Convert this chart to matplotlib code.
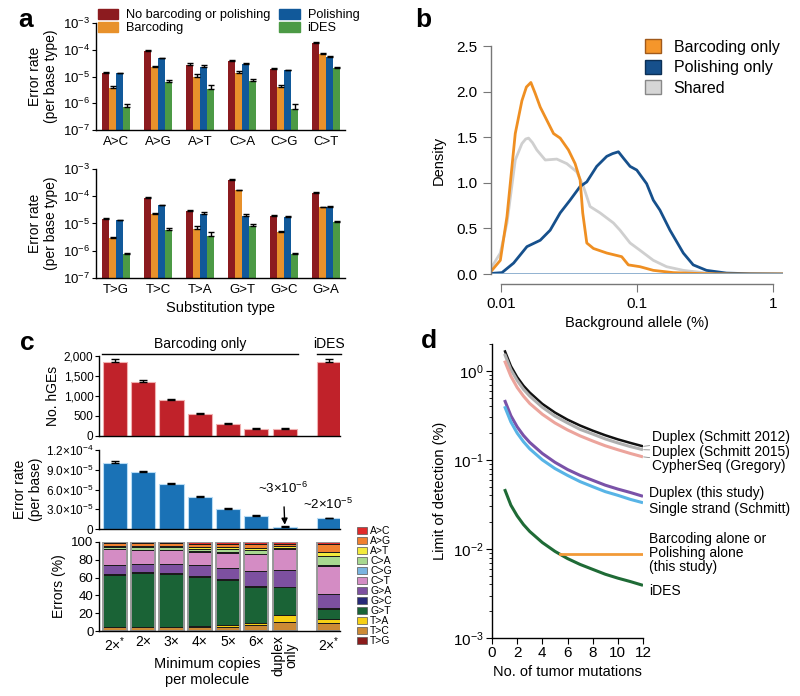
import matplotlib
matplotlib.use('Agg')
import matplotlib.pyplot as plt
import numpy as np
from matplotlib.patches import Patch
from matplotlib.ticker import NullLocator, FixedLocator, LogLocator

plt.rcParams['font.family'] = ['Liberation Sans', 'DejaVu Sans']
plt.rcParams['mathtext.fontset'] = 'custom'
plt.rcParams['mathtext.rm'] = 'Liberation Sans'
plt.rcParams['mathtext.it'] = 'Liberation Sans:italic'
plt.rcParams['mathtext.bf'] = 'Liberation Sans:bold'
plt.rcParams['axes.linewidth'] = 1.0

# ---------------- data ----------------
# panel a: error rate per substitution type
subs_top = ['A>C', 'A>G', 'A>T', 'C>A', 'C>G', 'C>T']
subs_bot = ['T>G', 'T>C', 'T>A', 'G>T', 'G>C', 'G>A']
methods = ['No barcoding or polishing', 'Barcoding', 'Polishing', 'iDES']
rate_top = {
    'No barcoding or polishing': [1.4e-5, 9.0e-5, 2.8e-5, 3.8e-5, 1.9e-5, 1.8e-4],
    'Barcoding': [3.8e-6, 2.3e-5, 1.0e-5, 1.3e-5, 4.0e-6, 7.0e-5],
    'Polishing': [1.3e-5, 4.8e-5, 2.2e-5, 2.9e-5, 1.7e-5, 5.3e-5],
    'iDES': [7.0e-7, 6.0e-6, 3.5e-6, 7.0e-6, 6.0e-7, 2.1e-5],
}
err_top = {
    'No barcoding or polishing': [1.2e-6, 5e-6, 3e-6, 3e-6, 1e-6, 1.2e-5],
    'Barcoding': [8e-7, 2e-6, 2.5e-6, 2.5e-6, 7e-7, 4e-6],
    'Polishing': [8e-7, 3e-6, 4e-6, 2e-6, 1e-6, 4e-6],
    'iDES': [2.5e-7, 1.5e-6, 1.5e-6, 1.2e-6, 3.5e-7, 2.5e-6],
}
rate_bot = {
    'No barcoding or polishing': [1.5e-5, 8.8e-5, 2.8e-5, 4.0e-4, 1.9e-5, 1.35e-4],
    'Barcoding': [3.0e-6, 2.3e-5, 6.5e-6, 1.7e-4, 4.7e-6, 4.0e-5],
    'Polishing': [1.3e-5, 4.7e-5, 2.3e-5, 1.9e-5, 1.8e-5, 4.0e-5],
    'iDES': [7.5e-7, 5.8e-6, 3.5e-6, 8.0e-6, 7.5e-7, 1.1e-5],
}
err_bot = {
    'No barcoding or polishing': [8e-7, 4e-6, 2e-6, 1.5e-5, 8e-7, 7e-6],
    'Barcoding': [2e-7, 1.5e-6, 1.5e-6, 6e-6, 4e-7, 2e-6],
    'Polishing': [6e-7, 2e-6, 3e-6, 4e-6, 8e-7, 4e-6],
    'iDES': [1e-7, 1e-6, 1.2e-6, 1.5e-6, 1e-7, 1.5e-6],
}
method_colors = ['#8c1b1f', '#e8912b', '#11599a', '#4c9a45']

# panel b: density of background allele fractions (log10 of %)
bx_barc = [-2.069, -2.007, -1.958, -1.897, -1.848, -1.815, -1.782, -1.750, -1.713, -1.615,
           -1.566, -1.505, -1.456, -1.419, -1.400, -1.370, -1.321, -1.223, -1.113, -1.064,
           -0.978, -0.880, -0.733, -0.537, -0.290, 0.075]
by_barc = [0.04, 0.15, 0.63, 1.54, 1.90, 2.05, 2.10, 1.98, 1.83, 1.54,
           1.49, 1.36, 1.21, 1.03, 0.67, 0.34, 0.28, 0.23, 0.19, 0.10,
           0.08, 0.04, 0.015, 0.005, 0.0, 0.0]
bx_pol = [-2.069, -1.995, -1.909, -1.811, -1.713, -1.640, -1.566, -1.493, -1.419, -1.370,
          -1.297, -1.223, -1.180, -1.137, -1.100, -1.051, -1.002, -0.929, -0.880, -0.831,
          -0.757, -0.659, -0.586, -0.488, -0.341, -0.169, 0.075]
by_pol = [0.007, 0.015, 0.12, 0.30, 0.37, 0.48, 0.67, 0.81, 0.96, 1.01,
          1.18, 1.29, 1.32, 1.34, 1.27, 1.18, 1.14, 0.99, 0.81, 0.70,
          0.48, 0.23, 0.10, 0.04, 0.01, 0.003, 0.0]
bx_sh = [-2.069, -2.007, -1.958, -1.897, -1.848, -1.820, -1.799, -1.770, -1.738, -1.676,
         -1.591, -1.517, -1.444, -1.395, -1.346, -1.272, -1.174, -1.125, -1.051, -0.978,
         -0.880, -0.782, -0.659, -0.488, -0.292, 0.075]
by_sh = [0.08, 0.23, 0.56, 1.25, 1.43, 1.48, 1.49, 1.44, 1.36, 1.25,
         1.26, 1.21, 1.12, 0.96, 0.74, 0.67, 0.56, 0.48, 0.34, 0.26,
         0.15, 0.08, 0.04, 0.01, 0.0, 0.0]

# panel c
c_labels = ['2×$^{*}$', '2×', '3×', '4×', '5×', '6×', 'duplex\nonly', '2×$^{*}$']
hge = [1850, 1350, 900, 540, 310, 175, 170, 1850]
hge_err = [70, 55, 35, 25, 20, 15, 20, 70]
err_rate = [1.01e-4, 8.6e-5, 6.85e-5, 4.85e-5, 3.03e-5, 2.0e-5, 3.0e-6, 1.6e-5]
err_rate_err = [3e-6, 2e-6, 2e-6, 2e-6, 1.5e-6, 1e-6, 1e-6, 1e-6]
stack_types = ['T>G', 'T>C', 'T>A', 'G>T', 'G>C', 'G>A', 'C>T', 'C>G', 'C>A', 'A>T', 'A>G', 'A>C']
stack_colors = ['#8a1c1c', '#cc8a35', '#f6d014', '#1a6336', '#272a78', '#7d50a0',
                '#d48cc4', '#7ab4e0', '#a8d890', '#f2ea3c', '#f08030', '#e02a2a']
stack_pct = [
    [1, 3, 1, 58, 1, 10, 18, 0.5, 1.5, 1.5, 3.5, 1],
    [1, 3, 1, 60, 1, 9, 16, 0.5, 2.5, 1.5, 3.5, 1],
    [1, 3, 1, 59, 1, 10, 16, 0.5, 2.5, 1.5, 3.5, 1],
    [1, 3, 2, 55, 1, 12, 15, 0.5, 3, 2, 3.5, 2],
    [1, 4, 2, 50, 1, 13, 17, 0.5, 3.5, 2, 4, 2],
    [1, 6, 2.5, 40.5, 1, 16, 19, 0.5, 4.5, 2.5, 4.5, 2],
    [1, 9, 8, 31, 1, 18, 24, 0.5, 1, 1.5, 3, 2],
    [1, 8, 5, 11, 1, 16, 31, 1, 10, 5, 9, 2],
]

# panel d: limit of detection (%) vs number of tumor mutations
d_n = [1, 1.5, 2, 2.5, 3, 4, 5, 6, 7, 8, 9, 10, 11, 12]
lod = {
    'Duplex (Schmitt 2012)': [1.7, 1.13, 0.85, 0.68, 0.57, 0.425, 0.34, 0.283, 0.243, 0.213, 0.189, 0.17, 0.155, 0.142],
    'Duplex (Schmitt 2015)': [1.55, 1.03, 0.78, 0.62, 0.52, 0.39, 0.31, 0.26, 0.22, 0.195, 0.172, 0.155, 0.141, 0.13],
    'CypherSeq (Gregory)': [1.3, 0.87, 0.65, 0.52, 0.43, 0.325, 0.26, 0.217, 0.186, 0.163, 0.144, 0.13, 0.118, 0.108],
    'Duplex (this study)': [0.47, 0.313, 0.235, 0.188, 0.157, 0.118, 0.094, 0.078, 0.067, 0.059, 0.052, 0.047, 0.043, 0.039],
    'Single strand (Schmitt)': [0.40, 0.267, 0.2, 0.16, 0.133, 0.1, 0.08, 0.067, 0.057, 0.05, 0.044, 0.04, 0.036, 0.033],
    'iDES': [0.047, 0.031, 0.0235, 0.0188, 0.0157, 0.0118, 0.0094, 0.0078, 0.0067, 0.0059, 0.0052, 0.0047, 0.0043, 0.0039],
}
lod_colors = ['#111111', '#b0b0b0', '#eca49c', '#7a52a8', '#58b4e6', '#1f6b36']
barc_n = [5.4, 12]
barc_lod = [0.0088, 0.0088]

fig = plt.figure(figsize=(8, 6.96), dpi=100)
W, H = 800, 696


def px_axes(l, t, r, b):
    return fig.add_axes([l / W, 1 - b / H, (r - l) / W, (b - t) / H])


def clean(ax):
    ax.spines['top'].set_visible(False)
    ax.spines['right'].set_visible(False)


# ---------------- panel a ----------------
for top, bot, cats, rates, errs in [(23, 130, subs_top, rate_top, err_top),
                                    (169, 278, subs_bot, rate_bot, err_bot)]:
    ax = px_axes(96, top, 345, bot)
    clean(ax)
    x = np.arange(len(cats))
    w = 0.167
    for i, m in enumerate(methods):
        xi = x + (i - 1.5) * w
        ax.bar(xi, rates[m], width=w, color=method_colors[i], label=m, log=True)
        ax.errorbar(xi, rates[m], yerr=[np.zeros(len(cats)), errs[m]], fmt='none',
                    ecolor='black', elinewidth=1, capsize=2, capthick=1)
    ax.set_yscale('log')
    ax.set_ylim(1e-7, 1e-3)
    ax.set_xlim(-0.48, 5.45)
    ax.yaxis.set_major_locator(FixedLocator([1e-7, 1e-6, 1e-5, 1e-4, 1e-3]))
    ax.yaxis.set_minor_locator(NullLocator())
    ax.set_xticks(x)
    ax.set_xticklabels(cats, fontsize=9.5)
    ax.tick_params(axis='x', length=0, pad=4)
    ax.tick_params(axis='y', labelsize=9.5, length=3, pad=1)
    ax.set_ylabel('Error rate\n(per base type)', fontsize=10, labelpad=4)
    if cats is subs_bot:
        ax.set_xlabel('Substitution type', fontsize=10.5, labelpad=4)

handles_a = [Patch(color=c) for c in method_colors]
fig.legend(handles_a, methods, ncol=2, loc='upper left', bbox_to_anchor=(98 / W, 1 - 9 / H),
           frameon=False, fontsize=9.2, handlelength=1.6, handleheight=0.8, handletextpad=0.6,
           columnspacing=0.7, labelspacing=0.05, borderpad=0, borderaxespad=0)

# ---------------- panel b ----------------
axb = px_axes(491, 46, 783, 274)
axb.spines['top'].set_visible(False)
axb.spines['right'].set_visible(False)
for s in ['left', 'bottom']:
    axb.spines[s].set_color('#777777')
axb.plot(10 ** np.array(bx_sh), by_sh, color='#cfcfcf', lw=2)
axb.plot(10 ** np.array(bx_pol), by_pol, color='#16508c', lw=2)
axb.plot(10 ** np.array(bx_barc), by_barc, color='#ef8f22', lw=2)
axb.axhline(0, color='#7fa6c9', lw=1.2)
axb.set_xscale('log')
axb.set_xlim(0.0084, 1.19)
axb.set_ylim(0, 2.5)
axb.spines['bottom'].set_position(('outward', 7))
axb.spines['bottom'].set_bounds(0.01, 1)
axb.spines['left'].set_bounds(0, 2.5)
axb.set_xticks([0.01, 0.1, 1])
axb.set_xticklabels(['0.01', '0.1', '1'])
axb.xaxis.set_minor_locator(NullLocator())
axb.set_yticks([0, 0.5, 1.0, 1.5, 2.0, 2.5])
axb.set_yticklabels(['0.0', '0.5', '1.0', '1.5', '2.0', '2.5'])
axb.tick_params(labelsize=11, colors='#777777', labelcolor='black', length=6)
axb.set_ylabel('Density', fontsize=10.5, labelpad=8)
axb.set_xlabel('Background allele (%)', fontsize=10.5, labelpad=4)
handles_b = [Patch(facecolor='#f5962b', edgecolor='#a0591a'),
             Patch(facecolor='#16508c', edgecolor='#0b2f55'),
             Patch(facecolor='#d6d6d6', edgecolor='#888888')]
axb.legend(handles_b, ['Barcoding only', 'Polishing only', 'Shared'], loc='upper left',
           bbox_to_anchor=((645 - 491) / 292, 1.03), frameon=False, fontsize=11.5,
           handlelength=1.0, handleheight=1.0, handletextpad=0.8, labelspacing=0.3,
           borderpad=0, borderaxespad=0)

# ---------------- panel c ----------------
xc = [0, 1, 2, 3, 4, 5, 6, 7.55]
bw = 0.85
xl = (-0.56, 7.95)

ax1 = px_axes(99, 356, 340, 436)
clean(ax1)
ax1.bar(xc, hge, width=bw, color='#c0222a', edgecolor='#f0b0b0', lw=0.8)
ax1.errorbar(xc, hge, yerr=[np.zeros(8), hge_err], fmt='none', ecolor='black',
             elinewidth=1, capsize=3, capthick=1)
ax1.set_xlim(*xl)
ax1.set_ylim(0, 2000)
ax1.set_yticks([0, 500, 1000, 1500, 2000])
ax1.set_yticklabels(['0', '500', '1,000', '1,500', '2,000'])
ax1.set_xticks([])
ax1.tick_params(axis='y', labelsize=8.5, length=3, pad=1)
ax1.set_ylabel('No. hGEs', fontsize=10, labelpad=3)
ax1.plot([-0.45, 6.45], [2060, 2060], color='black', lw=1, clip_on=False)
ax1.text(3.0, 2120, 'Barcoding only', ha='center', va='bottom', fontsize=10)
ax1.plot([7.13, 7.97], [2060, 2060], color='black', lw=1, clip_on=False)
ax1.text(7.55, 2120, 'iDES', ha='center', va='bottom', fontsize=10)

ax2 = px_axes(99, 450, 340, 529)
clean(ax2)
ax2.bar(xc, err_rate, width=bw, color='#1a72b6', edgecolor='#b8dcf5', lw=0.8)
ax2.errorbar(xc, err_rate, yerr=[np.zeros(8), err_rate_err], fmt='none', ecolor='black',
             elinewidth=1, capsize=3, capthick=1)
ax2.set_xlim(*xl)
ax2.set_ylim(0, 1.2e-4)
ax2.set_yticks([0, 3e-5, 6e-5, 9e-5, 1.2e-4])
ax2.set_yticklabels(['0', r'3.0×10$^{-5}$', r'6.0×10$^{-5}$', r'9.0×10$^{-5}$', r'1.2×10$^{-4}$'])
ax2.set_xticks([])
ax2.tick_params(axis='y', labelsize=8.5, length=3, pad=1)
ax2.set_ylabel('Error rate\n(per base)', fontsize=10, labelpad=2)
ax2.annotate(r'~3×10$^{-6}$', xy=(6, 6.5e-6), xytext=(5.95, 6.2e-5), ha='center', va='center',
             fontsize=9.5, arrowprops=dict(arrowstyle='-|>', color='black', lw=1,
                                            mutation_scale=9, shrinkA=6, shrinkB=0))
ax2.text(7.53, 3.7e-5, r'~2×10$^{-5}$', ha='center', va='center', fontsize=9.5)

ax3 = px_axes(99, 542, 340, 631)
clean(ax3)
pct = np.array(stack_pct)
bottom = np.zeros(len(xc))
for k, t in enumerate(stack_types):
    ax3.bar(xc, pct[:, k], bottom=bottom, width=bw, color=stack_colors[k],
            edgecolor='#1a1a1a', lw=0.7)
    bottom += pct[:, k]
ax3.bar(xc, bottom, width=bw, fill=False, edgecolor='#9a9a9a', lw=1.4)
ax3.set_xlim(*xl)
ax3.set_ylim(0, 100)
ax3.set_yticks([0, 20, 40, 60, 80, 100])
ax3.tick_params(axis='y', labelsize=9.5, length=3, pad=1)
ax3.set_xticks(xc)
ax3.set_xticklabels(c_labels, fontsize=10)
ax3.tick_params(axis='x', length=0, pad=3)
for lab in ax3.get_xticklabels():
    if 'duplex' in lab.get_text():
        lab.set_rotation(90)
        lab.set_va('top')
        lab.set_linespacing(0.85)
ax3.set_ylabel('Errors (%)', fontsize=10, labelpad=4)
fig.text(207 / W, 1 - 672 / H, 'Minimum copies\nper molecule', ha='center', va='center',
         fontsize=10.5, linespacing=1.1)

handles_c = [Patch(facecolor=stack_colors[k], edgecolor='#555555', lw=0.5)
             for k in range(len(stack_types) - 1, -1, -1)]
labels_c = stack_types[::-1]
fig.legend(handles_c, labels_c, loc='upper left', bbox_to_anchor=(357 / W, 1 - 526 / H),
           frameon=False, fontsize=7.5, handlelength=1.0, handleheight=0.7,
           handletextpad=0.25, labelspacing=0.0, borderpad=0, borderaxespad=0)

# ---------------- panel d ----------------
axd = px_axes(492, 344, 643, 638)
clean(axd)
for (name, vals), col in zip(lod.items(), lod_colors):
    axd.plot(d_n, vals, color=col, lw=2.2 if col != '#111111' else 1.8, solid_capstyle='butt')
axd.plot(barc_n, barc_lod, color='#f29a38', lw=2)
axd.set_yscale('log')
axd.set_ylim(1e-3, 2.0)
axd.set_xlim(0, 12)
axd.set_xticks(range(0, 13, 2))
axd.set_yticks([1e-3, 1e-2, 1e-1, 1e0])
axd.yaxis.set_minor_locator(LogLocator(base=10, subs=np.arange(2, 10)))
axd.yaxis.set_minor_formatter(plt.NullFormatter())
axd.tick_params(labelsize=11, length=4, pad=2)
axd.tick_params(which='minor', length=2)
axd.set_ylabel('Limit of detection (%)', fontsize=10.5, labelpad=4)
axd.set_xlabel('No. of tumor mutations', fontsize=10.5, labelpad=3)

names = list(lod.keys())
lead = [(0.142, 0.181), (0.13, 0.123), (0.108, 0.0855)]
for nm, (yv, yt) in zip(names[:3], lead):
    axd.annotate(nm, xy=(12.05, yv), xytext=(12.75, yt), textcoords='data', ha='left',
                 va='center', fontsize=10, annotation_clip=False,
                 arrowprops=dict(arrowstyle='-', color='#888888', lw=0.6, shrinkA=0, shrinkB=0))
axd.text(12.45, 0.0425, names[3], ha='left', va='center', fontsize=10, clip_on=False)
axd.text(12.45, 0.0281, names[4], ha='left', va='center', fontsize=10, clip_on=False)
axd.text(12.45, 0.0090, 'Barcoding alone or\nPolishing alone\n(this study)', ha='left',
         va='center', fontsize=10, linespacing=1.0, clip_on=False)
axd.text(12.45, 0.0034, 'iDES', ha='left', va='center', fontsize=10, clip_on=False)

# panel letters
for lt, (px, py) in zip('abcd', [(18, 8), (415, 8), (20, 331), (421, 329)]):
    fig.text(px / W, 1 - py / H, lt, fontsize=19, fontweight='bold', ha='left', va='top')

fig.savefig('out.png', dpi=100)
